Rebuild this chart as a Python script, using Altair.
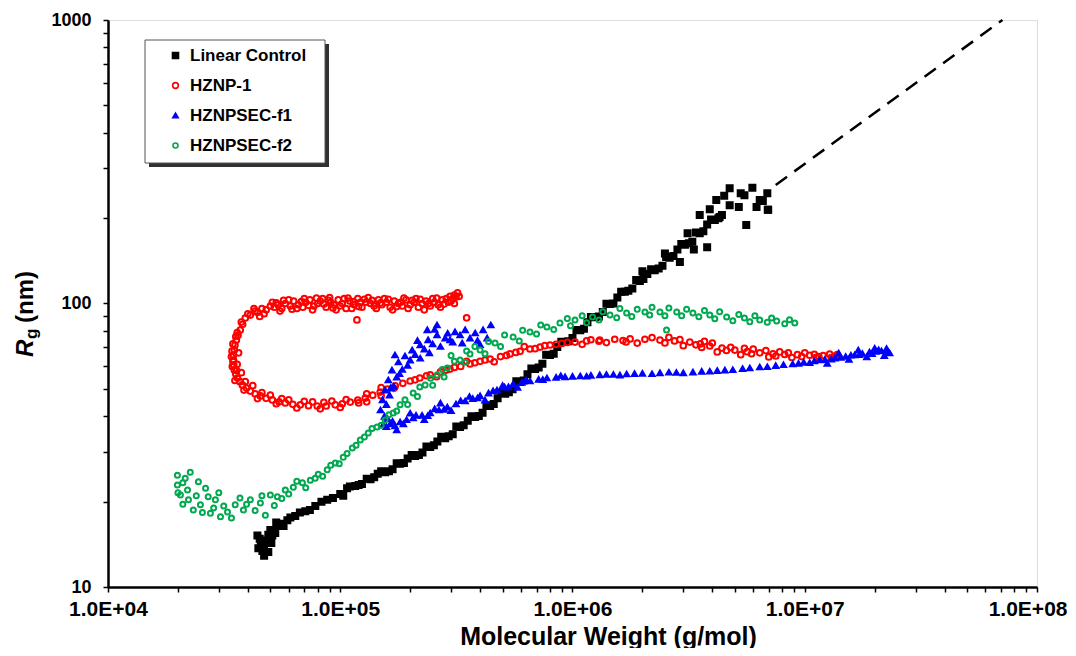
import altair as alt
import pandas as pd

series_names = ["Linear Control", "HZNP-1", "HZNPSEC-f1", "HZNPSEC-f2"]
stroke_colors = ["#000000", "#ff0000", "#0000ff", "#00a84f"]
fill_colors = ["#000000", "transparent", "#0000ff", "transparent"]
shapes = ["square", "circle", "triangle-up", "circle"]
sizes = [36, 25, 32, 34]

# (molecular weight g/mol, Rg nm)
linear_control = [
    (4.44e4, 13.7), (4.62e4, 13.4), (4.81e4, 14.6), (5.0e4, 15.9), (5.25e4, 15.5), (5.52e4, 16.7),
    (5.92e4, 17.2), (6.4e4, 17.8), (7.07e4, 18.5), (7.81e4, 19.3), (8.79e4, 20.3), (1.0e5, 21.3),
    (1.16e5, 22.7), (1.35e5, 24.0), (1.56e5, 25.4), (1.81e5, 27.2), (2.1e5, 29.0), (2.44e5, 31.2),
    (2.83e5, 33.5), (3.28e5, 36.7), (3.81e5, 39.8), (4.42e5, 43.5), (5.13e5, 48.0), (5.95e5, 52.9),
    (6.9e5, 58.7), (8.0e5, 65.8), (9.29e5, 73.1), (1.08e6, 80.5), (1.25e6, 89.5), (1.45e6, 99.5),
    (1.68e6, 110), (1.95e6, 120), (2.26e6, 131), (2.62e6, 145), (3.05e6, 161), (3.53e6, 177),
    (4.1e6, 197), (4.75e6, 222), (5.5e6, 241), (6.4e6, 232), (6.93e6, 214),
    (4.55e4, 14.2), (4.7e4, 13.9), (4.9e4, 15.3), (5.1e4, 15.2), (5.35e4, 16.4), (5.7e4, 16.4),
    (6.1e4, 17.6), (6.7e4, 18.3), (7.4e4, 18.7), (8.3e4, 20.0), (9.3e4, 20.6), (1.07e5, 22.3),
    (1.24e5, 23.1), (1.45e5, 25.1), (1.68e5, 26.0), (1.95e5, 28.4), (2.26e5, 29.8), (2.62e5, 32.6),
    (3.05e5, 34.6), (3.54e5, 38.6), (4.1e5, 41.2), (4.76e5, 46.3), (5.52e5, 49.8), (6.4e5, 56.3),
    (7.42e5, 61.3), (8.6e5, 70.2), (1.0e6, 75.5), (1.16e6, 85.9), (1.35e6, 93.4), (1.56e6, 105),
    (1.81e6, 113), (2.1e6, 127), (2.44e6, 136), (2.83e6, 155), (3.28e6, 165), (3.8e6, 190),
    (4.4e6, 205),
    (1.03e5, 21.0), (1.1e5, 22.6), (1.2e5, 22.9), (1.3e5, 24.1), (1.4e5, 24.4), (1.5e5, 25.6),
    (1.62e5, 25.6), (1.75e5, 27.3), (1.88e5, 27.4), (2.03e5, 29.2), (2.18e5, 29.2), (2.35e5, 31.3),
    (2.53e5, 31.6), (2.72e5, 33.9), (2.93e5, 34.0), (3.16e5, 36.8), (3.4e5, 37.2), (3.67e5, 40.0),
    (3.95e5, 40.1), (4.26e5, 43.8), (4.58e5, 44.2), (4.94e5, 48.3), (5.32e5, 48.6), (5.73e5, 53.2),
    (6.17e5, 53.5), (6.65e5, 59.0), (7.15e5, 59.5), (7.7e5, 66.0), (8.3e5, 66.5), (8.95e5, 73.3),
    (9.6e5, 73.6), (1.04e6, 80.7), (1.12e6, 81.5), (1.2e6, 89.7), (1.3e6, 90.0), (1.4e6, 99.7),
    (1.5e6, 100), (1.62e6, 110), (1.74e6, 111), (1.88e6, 121), (2.02e6, 122), (2.18e6, 132),
    (2.35e6, 133), (2.53e6, 146), (2.72e6, 147), (2.94e6, 162), (3.17e6, 163), (3.4e6, 178),
    (3.66e6, 180), (3.95e6, 198), (4.25e6, 200),
    (3.53e6, 205), (4.16e6, 232), (4.75e6, 255), (5.95e6, 256), (6.9e6, 245), (6.96e6, 214),
    (5.6e6, 189), (6.2e6, 219), (5.2e6, 219), (4.3e6, 202), (3.8e6, 158), (3.13e6, 177),
    (3.33e6, 155), (6.6e6, 230), (5.3e6, 245), (4.5e6, 240), (3.9e6, 215), (2.9e6, 140),
    (2.5e6, 150), (2.0e6, 130),
    (4.4e4, 15.2), (4.7e4, 12.9), (5.05e4, 14.3), (4.5e4, 14.8), (5.3e4, 16.9), (4.9e4, 13.3),
]

hznp_1 = [
    # upper arm
    (4.1e4, 91), (4.3e4, 94), (4.4e4, 93), (4.6e4, 96), (4.8e4, 95), (5.0e4, 98), (5.2e4, 97),
    (5.4e4, 99), (5.6e4, 96), (5.8e4, 100), (6.1e4, 98), (6.3e4, 102), (6.6e4, 99), (6.9e4, 97),
    (7.1e4, 101), (7.4e4, 103), (7.7e4, 98), (8.0e4, 100), (8.4e4, 104), (8.7e4, 97), (9.1e4, 101),
    (9.4e4, 99), (9.8e4, 103), (1.02e5, 100), (1.06e5, 96), (1.10e5, 102), (1.15e5, 99),
    (1.19e5, 104), (1.24e5, 97), (1.29e5, 101), (1.35e5, 100), (1.40e5, 98), (1.46e5, 103),
    (1.51e5, 99), (1.58e5, 101), (1.64e5, 97), (1.71e5, 102), (1.78e5, 100), (1.85e5, 98),
    (1.92e5, 103), (2.0e5, 99), (2.08e5, 101), (2.17e5, 97), (2.25e5, 100), (2.34e5, 102),
    (2.44e5, 98), (2.54e5, 101), (2.64e5, 99), (2.75e5, 103), (2.86e5, 104), (2.97e5, 106),
    (3.1e5, 107), (3.2e5, 109),
    (4.5e4, 90), (5.1e4, 101), (5.5e4, 94), (6.0e4, 103), (6.5e4, 96), (7.0e4, 104), (7.6e4, 95),
    (8.2e4, 102), (9.0e4, 105), (9.6e4, 95), (1.04e5, 104), (1.12e5, 96), (1.22e5, 101),
    (1.32e5, 105), (1.43e5, 96), (1.55e5, 104), (1.68e5, 95), (1.82e5, 101), (1.96e5, 96),
    (2.12e5, 104), (2.3e5, 95), (2.5e5, 104), (2.7e5, 97), (2.92e5, 101), (3.05e5, 104),
    (1.18e5, 87.5), (3.5e5, 89), (3.1e5, 100),
    (4.25e4, 96), (4.7e4, 92), (5.3e4, 100.5), (5.7e4, 102.5), (6.2e4, 95.5), (6.8e4, 101.5),
    (7.3e4, 98.5), (7.9e4, 104.5), (8.5e4, 99.5), (8.9e4, 102.5), (9.3e4, 96.5), (1.0e5, 98),
    (1.08e5, 104.5), (1.14e5, 101.5), (1.2e5, 97.5), (1.27e5, 103.5), (1.37e5, 102.5),
    (1.49e5, 100.5), (1.61e5, 103.5), (1.75e5, 97.5), (1.88e5, 104.5), (2.04e5, 102.5),
    (2.21e5, 103.5), (2.4e5, 100), (2.6e5, 104.5), (2.8e5, 99.5), (3.0e5, 102), (3.15e5, 105.5),
    (3.25e5, 106),
    # loop and lower branch
    (3.9e4, 88.9), (3.71e4, 80.6), (3.57e4, 74.3), (3.5e4, 68.5), (3.47e4, 63.2), (3.5e4, 58.3),
    (3.61e4, 54.6), (3.79e4, 51.6), (4.1e4, 49.1), (4.53e4, 47.2), (5.1e4, 45.7), (5.8e4, 44.6),
    (6.73e4, 43.9), (7.96e4, 43.5), (9.52e4, 43.9), (1.104e5, 44.9), (1.281e5, 46.4),
    (1.486e5, 48.7), (1.725e5, 51.2), (2.0e5, 53.3), (2.44e5, 56.0), (2.97e5, 58.7),
    (3.62e5, 61.2), (4.42e5, 63.7), (5.38e5, 66.4), (6.56e5, 69.1), (8.0e5, 71.4),
    (1.025e6, 73.1), (1.31e6, 74.3), (1.77e6, 75.0), (2.38e6, 74.3), (3.2e6, 73.1),
    (3.9e6, 70.8), (5.0e6, 68.5), (6.4e6, 67.0), (8.2e6, 66.1), (1.05e7, 65.7), (1.35e7, 65.3),
    (3.8e4, 84.5), (3.63e4, 77.2), (3.52e4, 71.3), (3.47e4, 65.8), (3.48e4, 60.7), (3.55e4, 56.4),
    (3.7e4, 53.0), (3.95e4, 50.3), (4.3e4, 48.0), (4.8e4, 46.3), (5.45e4, 45.0), (6.25e4, 44.1),
    (7.3e4, 43.6), (8.7e4, 43.5), (1.02e5, 44.3), (1.19e5, 45.6), (1.38e5, 47.5), (1.6e5, 49.9),
    (1.86e5, 52.3), (2.2e5, 54.6), (2.7e5, 57.4), (3.3e5, 60.0), (4.0e5, 62.5), (4.9e5, 65.0),
    (5.95e5, 67.8), (7.25e5, 70.2), (9.0e5, 72.3), (1.15e6, 73.8), (1.52e6, 74.8), (2.05e6, 74.8),
    (2.75e6, 73.8), (3.55e6, 72.0), (4.4e6, 69.6), (5.65e6, 67.6), (7.3e6, 66.4), (9.3e6, 66.0),
    (1.2e7, 65.5),
    (4.0e4, 92), (3.75e4, 86), (3.6e4, 79), (3.45e4, 72), (3.4e4, 65), (3.43e4, 60), (3.52e4, 53.5),
    (3.85e4, 49.5), (4.4e4, 46.2), (5.3e4, 44.3), (6.5e4, 42.8), (8.2e4, 42.5), (1.0e5, 43.0),
    (1.2e5, 44.6), (3.65e4, 67), (3.6e4, 61), (3.75e4, 57), (4.2e4, 51.3), (5.0e4, 47.5),
    (6.0e4, 45.7), (7.6e4, 45.0), (9.2e4, 45.3),
    (3.55e4, 76.5), (3.42e4, 68), (3.45e4, 62.5), (3.58e4, 58), (3.9e4, 53), (4.6e4, 48.5),
    (5.6e4, 46.2), (7.0e4, 45.2), (8.5e4, 44.8), (1.06e5, 45.8), (1.3e5, 48.0), (1.5e5, 50.5),
    (1.3e5, 45.0), (1.5e5, 47.3),
    (1.7e5, 50.2), (2.1e5, 53.8), (2.35e5, 55.6), (2.85e5, 58.2), (3.1e5, 59.5), (3.8e5, 61.8),
    (4.2e5, 63.2), (5.2e5, 65.6), (5.7e5, 67.2), (6.9e5, 69.3), (7.6e5, 71.0), (8.5e5, 71.8),
    (9.5e5, 72.9), (1.3e6, 73.6),
    (1.9e6, 72.5), (2.6e6, 76.0), (3.0e6, 71.0), (3.7e6, 73.5), (4.2e6, 67.5), (4.8e6, 70.0),
    (5.3e6, 66.0), (6.0e6, 69.0), (7.0e6, 64.8), (7.8e6, 67.5), (8.8e6, 64.5), (1.0e7, 67.0),
    (1.12e7, 64.6), (1.28e7, 66.3), (1.4e6, 72.8), (1.1e6, 71.8), (6.2e5, 70.5), (4.6e5, 62.3),
    (3.5e5, 62.5), (2.6e5, 55.2),
    (1.2e6, 74.5), (1.65e6, 74.0), (2.2e6, 75.8), (2.9e6, 74.6), (3.4e6, 71.5), (4.0e6, 72.5),
    (4.6e6, 68.3), (5.9e6, 66.5), (6.8e6, 68.2), (8.5e6, 67.0), (9.7e6, 65.0), (1.1e7, 66.2),
    (1.3e7, 64.5), (1.38e7, 66.0), (1.7e6, 73.2), (2.5e6, 72.6), (3.6e6, 70.0), (5.5e6, 69.5),
    (7.5e6, 65.3), (1.15e7, 65.0),
]

hznpsec_f1 = [
    # lower branch
    (1.53e5, 37.3), (1.64e5, 37.6), (1.81e5, 38.2), (2.06e5, 39.5), (2.44e5, 41.1), (2.89e5, 43.1),
    (3.45e5, 45.3), (4.0e5, 47.2), (4.73e5, 49.5), (5.55e5, 52.0), (6.56e5, 53.3), (7.76e5, 54.6),
    (9.29e5, 55.1), (1.08e6, 55.5), (1.31e6, 56.0), (1.71e6, 56.4), (2.38e6, 56.9), (3.3e6, 57.3),
    (4.53e6, 58.2), (6.4e6, 59.7), (8.87e6, 61.2), (1.1e7, 62.7), (1.35e7, 64.2), (1.64e7, 65.8),
    (1.9e7, 67.4), (2.14e7, 68.0), (2.32e7, 66.9),
    (1.72e5, 37.0), (1.93e5, 38.9), (2.25e5, 40.3), (2.66e5, 42.1), (3.15e5, 44.2), (3.72e5, 46.2),
    (4.35e5, 48.3), (5.1e5, 50.7), (6.05e5, 52.7), (7.15e5, 54.0), (8.5e5, 54.9), (1.0e6, 55.3),
    (1.2e6, 55.8), (1.5e6, 56.2), (2.0e6, 56.7), (2.8e6, 57.1), (3.9e6, 57.7), (5.4e6, 58.9),
    (7.5e6, 60.4), (9.9e6, 62.0), (1.22e7, 63.4), (1.5e7, 65.0), (1.77e7, 66.6), (2.02e7, 67.7),
    (1.6e5, 39.2), (1.75e5, 35.8), (2.0e5, 41.0), (2.3e5, 38.9), (2.7e5, 44.5), (3.0e5, 41.9),
    (3.6e5, 47.0), (4.2e5, 45.6), (5.0e5, 51.3), (5.8e5, 50.6), (1.4e7, 66.8), (1.55e7, 63.5),
    (1.7e7, 68.5), (1.85e7, 64.8), (2.0e7, 69.5), (2.2e7, 65.5), (1.25e7, 61.5), (2.25e7, 69.3),
    (1.58e5, 36.8), (1.68e5, 38.4), (1.87e5, 37.6), (2.12e5, 40.3), (2.38e5, 40.2), (2.55e5, 42.5),
    (2.8e5, 42.3), (3.3e5, 45.4), (3.9e5, 46.4), (4.55e5, 49.2), (5.3e5, 50.8), (6.3e5, 53.8),
    (7.45e5, 53.9), (8.9e5, 55.6),
    (1.15e6, 55.4), (1.4e6, 56.2), (1.6e6, 55.9), (1.85e6, 56.6), (2.2e6, 56.5), (2.6e6, 57.2),
    (3.0e6, 56.9), (3.6e6, 57.6), (4.2e6, 58.0), (4.9e6, 58.4), (5.8e6, 59.2), (6.9e6, 59.8),
    (8.1e6, 60.8), (9.4e6, 61.5), (1.05e7, 61.8), (1.16e7, 63.2), (1.3e7, 63.6), (1.43e7, 64.5),
    (1.58e7, 65.7), (1.72e7, 66.0), (1.95e7, 66.5), (2.08e7, 68.6), (2.28e7, 67.8),
    # upper branch
    (1.49e5, 42.1), (1.52e5, 45.7), (1.56e5, 49.5), (1.61e5, 53.7), (1.67e5, 58.2), (1.78e5, 62.2),
    (1.9e5, 65.3), (2.04e5, 68.5), (2.21e5, 71.4), (2.39e5, 74.4), (2.61e5, 77.4), (2.83e5, 75.5),
    (3.12e5, 79.4), (3.45e5, 80.7), (3.81e5, 78.7), (4.12e5, 80.7), (2.61e5, 84.0), (2.37e5, 80.7),
    (1.72e5, 65.8), (2.0e5, 63.1), (2.21e5, 64.1), (2.97e5, 74.4), (3.28e5, 77.4), (3.62e5, 75.5),
    (4.29e5, 75.5), (4.45e5, 84.0),
    (1.55e5, 40.0), (1.58e5, 44.0), (1.63e5, 47.5), (1.7e5, 51.0), (1.75e5, 55.0), (1.85e5, 58.5),
    (1.95e5, 60.5), (2.1e5, 66.0), (2.3e5, 69.0), (2.5e5, 72.0), (2.7e5, 70.5), (2.9e5, 78.5),
    (3.05e5, 73.0), (3.35e5, 72.5), (3.9e5, 74.0), (4.0e5, 71.5), (1.8e5, 56.5), (1.65e5, 50.5),
    (2.15e5, 74.0), (2.55e5, 81.0), (2.42e5, 67.0),
]

hznpsec_f2 = [
    (1.99e4, 22.9), (2.05e4, 21.1), (1.99e4, 24.8), (2.15e4, 24.2), (2.26e4, 25.4), (2.22e4, 20.3),
    (2.33e4, 18.7), (2.5e4, 19.5), (2.63e4, 22.3), (2.76e4, 18.2), (2.9e4, 20.3), (3.05e4, 17.7),
    (3.27e4, 18.4), (3.53e4, 19.5), (3.83e4, 18.7), (4.1e4, 20.3), (4.53e4, 19.8), (4.76e4, 17.9),
    (5.0e4, 21.1), (5.36e4, 20.8), (5.8e4, 22.0), (6.28e4, 22.5), (6.87e4, 23.3), (7.43e4, 23.8),
    (8.04e4, 25.0), (8.79e4, 25.9), (9.52e4, 27.4), (1.03e5, 28.7), (1.127e5, 30.9), (1.22e5, 33.0),
    (1.32e5, 34.9), (1.44e5, 36.7), (1.56e5, 38.8), (1.69e5, 41.1), (1.81e5, 43.9), (2.06e5, 48.3),
    (2.32e5, 51.6), (2.61e5, 56.0), (2.89e5, 59.2), (3.28e5, 63.2), (3.62e5, 66.4), (4.0e5, 68.5),
    (4.64e5, 72.6), (5.55e5, 76.2), (6.56e5, 79.3), (7.76e5, 82.6), (8.83e5, 85.3), (1.025e6, 87.5),
    (1.22e6, 89.6), (1.45e6, 91.1), (1.71e6, 92.6), (2.05e6, 93.3), (2.38e6, 93.3), (2.81e6, 93.3),
    (3.3e6, 92.6), (3.9e6, 91.1), (4.61e6, 89.6), (5.5e6, 88.9), (6.4e6, 87.5), (7.57e6, 86.8),
    (9.06e6, 85.3),
    (2.0e4, 21.5), (2.1e4, 23.3), (2.1e4, 19.6), (2.2e4, 22.0), (2.4e4, 21.0), (2.45e4, 23.5),
    (2.55e4, 18.3), (2.7e4, 20.8), (2.85e4, 19.0), (3.0e4, 21.5), (3.15e4, 19.3), (3.4e4, 17.5),
    (3.7e4, 20.6), (3.95e4, 19.6), (4.3e4, 18.6), (4.6e4, 21.0), (5.2e4, 19.4), (5.6e4, 20.5),
    (6.0e4, 21.3), (6.5e4, 23.6), (7.1e4, 22.4), (7.8e4, 24.2), (8.4e4, 24.6), (9.1e4, 26.9),
    (9.9e4, 27.2), (1.07e5, 29.6), (1.17e5, 31.6), (1.27e5, 33.8), (1.37e5, 36.2), (1.5e5, 37.2),
    (1.62e5, 40.5), (1.75e5, 41.8), (1.9e5, 45.8), (1.95e5, 44.0), (2.2e5, 50.8), (2.15e5, 47.0),
    (2.45e5, 54.5), (2.5e5, 51.5), (2.75e5, 58.5), (2.8e5, 55.0), (3.1e5, 62.5), (3.0e5, 65.5),
    (3.45e5, 62.0), (3.5e5, 68.0), (3.8e5, 70.5), (4.2e5, 66.5), (4.35e5, 73.5), (4.9e5, 70.5),
    (5.1e5, 77.5), (5.9e5, 73.8), (6.1e5, 80.5), (7.0e5, 78.0), (7.3e5, 84.0), (8.3e5, 81.0),
    (9.5e5, 88.5), (9.8e5, 83.5), (1.1e6, 90.5), (1.15e6, 85.5), (1.3e6, 87.5), (1.35e6, 93.5),
    (1.55e6, 89.0), (1.6e6, 96.0), (1.8e6, 90.0), (1.9e6, 95.5), (2.15e6, 91.0), (2.2e6, 97.0),
    (2.5e6, 90.5), (2.6e6, 96.5), (2.95e6, 90.5), (3.1e6, 95.5), (3.5e6, 89.8), (3.7e6, 94.5),
    (4.1e6, 88.4), (4.3e6, 93.5), (4.9e6, 87.0), (5.2e6, 91.5), (5.8e6, 86.2), (6.1e6, 90.5),
    (6.9e6, 85.8), (7.2e6, 88.9), (8.2e6, 84.8), (8.6e6, 87.7), (2.54e6, 80.6),
]

# dashed power-law extension of the linear control
trend_mw = [7.5e6, 7.1e7]
trend_rg = [262, 1000]

x_tick_values = [1e4, 2e4, 3e4, 4e4, 5e4, 6e4, 7e4, 8e4, 9e4,
                 1e5, 2e5, 3e5, 4e5, 5e5, 6e5, 7e5, 8e5, 9e5,
                 1e6, 2e6, 3e6, 4e6, 5e6, 6e6, 7e6, 8e6, 9e6,
                 1e7, 2e7, 3e7, 4e7, 5e7, 6e7, 7e7, 8e7, 9e7, 1e8]
y_tick_values = [10, 20, 30, 40, 50, 60, 70, 80, 90,
                 100, 200, 300, 400, 500, 600, 700, 800, 900, 1000]

rows = []
for name, pts in zip(series_names, [linear_control, hznp_1, hznpsec_f1, hznpsec_f2]):
    for mw, rg in pts:
        rows.append({"series": name, "mw": mw, "rg": rg})
df = pd.DataFrame(rows)
trend_df = pd.DataFrame({"mw": trend_mw, "rg": trend_rg})

FONT = "Liberation Sans"
decade = "abs(log(datum.value)/LN10 - round(log(datum.value)/LN10)) < 0.001"

x_scale = alt.Scale(type="log", domain=[1e4, 1e8])
y_scale = alt.Scale(type="log", domain=[10, 1000])

x_axis = alt.Axis(
    values=x_tick_values, labelExpr=f"{decade} ? '1.0E+0' + round(log(datum.value)/LN10) : ''",
    title="Molecular Weight (g/mol)", grid=False, tickSize=5, tickColor="black", tickWidth=1.5,
    domainColor="black", domainWidth=2.5, labelFont=FONT, labelFontSize=21, labelFontWeight="bold",
    labelColor="black", labelPadding=6, labelFlush=False, labelOverlap=False,
    labelAlign={"condition": {"test": "datum.value > 5e7", "value": "right"}, "value": "center"},
    labelOffset={"condition": {"test": "datum.value > 5e7", "value": 30}, "value": 0},
    titleFont=FONT, titleFontSize=25, titleFontWeight="bold", titleColor="black",
    titleX=500, titleY=57, titleAlign="center", titleBaseline="alphabetic",
)
y_axis = alt.Axis(
    values=y_tick_values, labelExpr=f"{decade} ? format(datum.value, 'd') : ''",
    title=None, grid=False, tickSize=5, tickColor="black", tickWidth=1.5,
    domainColor="black", domainWidth=2.5, labelFont=FONT, labelFontSize=18, labelFontWeight="bold",
    labelColor="black", labelPadding=12, labelFlush=False, labelOverlap=False,
)

legend = alt.Legend(
    title=None, orient="none", legendX=59, legendY=27, labelFont=FONT, labelFontSize=17,
    labelFontWeight="bold", labelColor="black", symbolSize=28, symbolStrokeWidth=1.6,
    rowPadding=12, labelOffset=6, padding=0,
)

trend = alt.Chart(trend_df).mark_line(color="black", strokeWidth=2.5, strokeDash=[14, 9]).encode(
    x=alt.X("mw:Q", scale=x_scale, axis=x_axis),
    y=alt.Y("rg:Q", scale=y_scale, axis=y_axis),
)

points = alt.Chart(df).mark_point(strokeWidth=2, opacity=1).encode(
    x=alt.X("mw:Q", scale=x_scale, axis=x_axis),
    y=alt.Y("rg:Q", scale=y_scale, axis=y_axis),
    color=alt.Color("series:N", scale=alt.Scale(domain=series_names, range=stroke_colors), legend=legend),
    fill=alt.Fill("series:N", scale=alt.Scale(domain=series_names, range=fill_colors), legend=legend),
    shape=alt.Shape("series:N", scale=alt.Scale(domain=series_names, range=shapes), legend=legend),
    size=alt.Size("series:N", scale=alt.Scale(domain=series_names, range=sizes), legend=None),
)

one = alt.Data(values=[{}])
shadow = alt.Chart(one).mark_rect(fill="#303030").encode(
    x=alt.value(41), x2=alt.value(221), y=alt.value(24), y2=alt.value(147))
box = alt.Chart(one).mark_rect(fill="white", stroke="#555555", strokeWidth=1).encode(
    x=alt.value(37), x2=alt.value(217), y=alt.value(20), y2=alt.value(143))

t_r = alt.Chart(one).mark_text(text="R", angle=270, align="left", baseline="alphabetic",
                               font=FONT, fontSize=24, fontStyle="italic", fontWeight="bold",
                               color="black").encode(x=alt.value(-75), y=alt.value(337))
t_g = alt.Chart(one).mark_text(text="g", angle=270, align="left", baseline="alphabetic",
                               font=FONT, fontSize=17, fontWeight="bold",
                               color="black").encode(x=alt.value(-71), y=alt.value(319))
t_nm = alt.Chart(one).mark_text(text="(nm)", angle=270, align="left", baseline="alphabetic",
                                font=FONT, fontSize=24, fontWeight="bold",
                                color="black").encode(x=alt.value(-75), y=alt.value(303))

chart = alt.layer(trend, points, shadow, box, t_r, t_g, t_nm).properties(
    width=929, height=567,
    autosize=alt.AutoSizeParams(type="none"),
    padding={"left": 100, "top": 12, "right": 30, "bottom": 61},
).configure_view(stroke="black", strokeWidth=2.5).configure(background="white")

chart.save("out.html", embed_options={"renderer": "svg", "actions": False})
